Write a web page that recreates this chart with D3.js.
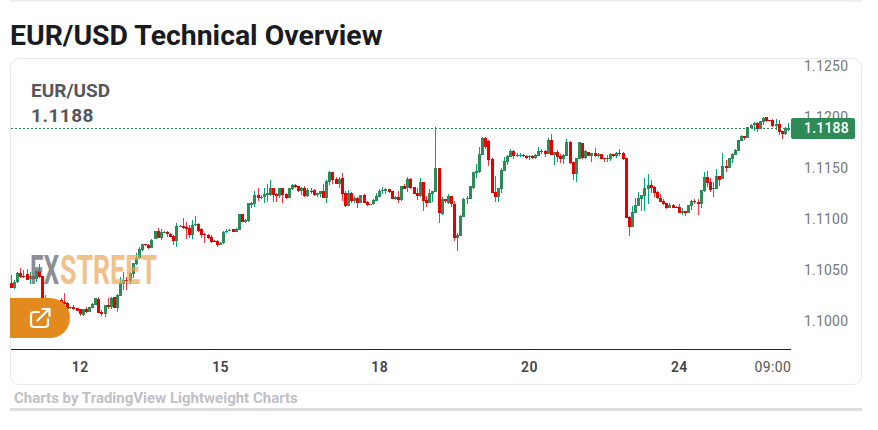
<!DOCTYPE html>
<html><head><meta charset="utf-8">
<script src="https://cdn.jsdelivr.net/npm/d3@7/dist/d3.min.js"></script>
<style>html,body{margin:0;padding:0;background:#fff;overflow:hidden}svg{display:block;font-family:Roboto,sans-serif}</style>
</head><body><svg id="c" width="878" height="430"></svg>
<script>
const title = "EUR/USD Technical Overview";
const symbol = "EUR/USD";
const lastPrice = 1.1188;
const priceTicks = [1.1250, 1.1200, 1.1150, 1.1100, 1.1050, 1.1000];
const timeTickIndex = [22, 67, 118, 166, 214, 244];
const timeTickLabels = ["12", "15", "18", "20", "24", "09:00"];
const opens = [
1.1036,1.1031,1.1037,1.1046,1.1043,1.1045,1.104,1.1043,1.104,1.1048,
1.1043,1.10215,1.10176,1.1014,1.1015,1.1014,1.10196,1.10173,1.1017,1.10115,
1.1013,1.10118,1.10108,1.10052,1.10108,1.1008,1.1012,1.10147,1.10209,1.10078,
1.10062,1.10147,1.1013,1.10222,1.1012,1.10238,1.10356,1.10389,1.10385,1.1045,
1.10549,1.10605,1.10686,1.10742,1.10735,1.10706,1.1079,1.10875,1.10804,1.10863,
1.10866,1.10843,1.10823,1.10777,1.1092,1.1092,1.10914,1.10902,1.10836,1.1093,
1.10944,1.10892,1.10843,1.10833,1.10813,1.10774,1.10774,1.10738,1.10758,1.1086,
1.10872,1.10888,1.10866,1.10882,1.11039,1.10964,1.10973,1.1113,1.11137,1.11225,
1.11196,1.11202,1.11225,1.11225,1.1129,1.11235,1.11215,1.1129,1.11235,1.11196,
1.11284,1.1132,1.11313,1.11267,1.1129,1.11215,1.11267,1.11274,1.11225,1.11235,
1.11261,1.11199,1.11356,1.1145,1.11378,1.11336,1.11388,1.11245,1.11117,1.11245,
1.11166,1.11196,1.11147,1.11225,1.11156,1.1113,1.11133,1.11169,1.11205,1.11264,
1.11267,1.11284,1.11261,1.11186,1.11205,1.11176,1.11313,1.1129,1.11382,1.11303,
1.11245,1.11215,1.11356,1.11176,1.1115,1.11235,1.11258,1.1149,1.11039,1.11186,
1.1115,1.11215,1.11137,1.10807,1.10823,1.11013,1.11182,1.11189,1.1129,1.11444,
1.1145,1.11617,1.11784,1.11751,1.11578,1.11254,1.11205,1.11287,1.11463,1.11552,
1.116,1.11656,1.11614,1.11607,1.1162,1.11607,1.11594,1.11607,1.11591,1.11607,
1.11653,1.11656,1.11627,1.11764,1.11617,1.11646,1.11607,1.11578,1.1161,1.11744,
1.11548,1.11431,1.11581,1.11735,1.11588,1.11646,1.11607,1.11637,1.11607,1.11627,
1.11588,1.11581,1.11578,1.11627,1.11607,1.1164,1.1164,1.11588,1.11009,1.1091,
1.11049,1.11117,1.11186,1.11215,1.11284,1.1132,1.11303,1.11254,1.1120,1.11169,
1.11147,1.11097,1.11127,1.1111,1.11107,1.11052,1.11065,1.11052,1.1112,1.11166,
1.1116,1.11137,1.11264,1.11401,1.11352,1.1128,1.11284,1.11411,1.11382,1.11509,
1.1149,1.11578,1.11617,1.11656,1.11754,1.11803,1.11784,1.11882,1.11908,1.1193,
1.11875,1.1194,1.1199,1.1196,1.1196,1.119,1.1192,1.11852,1.11823,1.11862];
const closes = [
1.10314,1.10375,1.1046,1.1042,1.10425,1.10395,1.1043,1.104,1.1048,1.1042,
1.1018,1.10176,1.10157,1.1016,1.1013,1.1011,1.10167,1.10154,1.1011,1.10125,
1.10108,1.1009,1.10059,1.10105,1.10075,1.10127,1.10154,1.10216,1.10072,1.10062,
1.10147,1.10124,1.10219,1.1012,1.10245,1.1036,1.10389,1.10382,1.1046,1.10556,
1.10605,1.10696,1.10742,1.10732,1.10706,1.10787,1.10872,1.10804,1.10866,1.10865,
1.1084,1.10816,1.10777,1.1092,1.10923,1.10899,1.10895,1.10836,1.1093,1.1094,
1.10875,1.10836,1.10833,1.108,1.10767,1.10764,1.10738,1.10758,1.10866,1.10872,
1.10882,1.10866,1.10892,1.11039,1.10964,1.1098,1.11143,1.11143,1.11225,1.11196,
1.11209,1.11235,1.11248,1.1129,1.11228,1.11215,1.1129,1.11225,1.11196,1.11294,
1.1132,1.11307,1.11261,1.11294,1.11215,1.11274,1.11258,1.11225,1.11241,1.11261,
1.11199,1.11362,1.1145,1.11372,1.11333,1.11378,1.11238,1.11114,1.11245,1.11166,
1.11196,1.1115,1.11225,1.11147,1.1113,1.11137,1.11176,1.11215,1.11264,1.11277,
1.11284,1.11254,1.11186,1.11205,1.11176,1.11313,1.11284,1.11382,1.11297,1.11238,
1.11215,1.11352,1.11166,1.1115,1.11245,1.11264,1.1149,1.11052,1.11186,1.11166,
1.11215,1.11137,1.10807,1.10833,1.11019,1.11186,1.11196,1.11313,1.1145,1.1146,
1.11627,1.11784,1.11699,1.11568,1.11248,1.11205,1.1129,1.1147,1.11558,1.11607,
1.11656,1.11607,1.11614,1.11617,1.11604,1.11588,1.11607,1.11588,1.1162,1.11656,
1.11646,1.1163,1.11764,1.11617,1.11646,1.116,1.11578,1.11617,1.11744,1.11539,
1.11431,1.11588,1.11744,1.11588,1.11656,1.11607,1.11637,1.11607,1.1163,1.11578,
1.11578,1.11588,1.1163,1.11607,1.11637,1.11627,1.11578,1.11,1.1091,1.11058,
1.11127,1.11196,1.11225,1.1129,1.11323,1.11297,1.11248,1.11199,1.1116,1.11137,
1.11097,1.11127,1.111,1.1110,1.11052,1.11065,1.11052,1.11127,1.11166,1.1116,
1.11137,1.11274,1.11401,1.11343,1.11274,1.1129,1.11411,1.11372,1.11509,1.1149,
1.11588,1.11627,1.11666,1.11764,1.11803,1.11784,1.11891,1.11911,1.11927,1.11875,
1.1195,1.1198,1.1195,1.1195,1.119,1.1192,1.11842,1.11823,1.11882,1.11882];
const highs = [
1.10438,1.1039,1.1047,1.1051,1.1049,1.105,1.1047,1.1044,1.1049,1.1055,
1.10435,1.1025,1.1019,1.1017,1.1017,1.102,1.10215,1.10267,1.1018,1.1013,
1.10148,1.1012,1.1011,1.1011,1.10124,1.1013,1.10165,1.1022,1.1023,1.10098,
1.10147,1.10211,1.10229,1.1023,1.10255,1.10417,1.10473,1.10424,1.10473,1.10556,
1.10653,1.10719,1.10745,1.10746,1.10745,1.1079,1.10875,1.10898,1.10895,1.1087,
1.10876,1.1085,1.10833,1.10947,1.1093,1.10996,1.10965,1.1093,1.1098,1.1102,
1.10955,1.10899,1.1085,1.10843,1.10833,1.1078,1.10784,1.1076,1.10876,1.10889,
1.1089,1.10895,1.10898,1.1104,1.11042,1.10993,1.11146,1.11153,1.11267,1.1129,
1.11225,1.1129,1.11333,1.11372,1.11297,1.11241,1.11297,1.11297,1.11241,1.11294,
1.1133,1.11333,1.11314,1.113,1.11313,1.1129,1.1129,1.1128,1.11248,1.11267,
1.11333,1.11372,1.1146,1.11454,1.11398,1.11398,1.11437,1.11267,1.11274,1.11258,
1.11215,1.11209,1.11228,1.11235,1.11166,1.1114,1.11182,1.11241,1.1128,1.11307,
1.11297,1.11287,1.11264,1.11212,1.11264,1.11313,1.11333,1.11405,1.11388,1.11307,
1.1129,1.11392,1.11356,1.11215,1.11284,1.11267,1.11895,1.1149,1.11202,1.11186,
1.11235,1.11215,1.11166,1.10849,1.11029,1.11192,1.11215,1.11316,1.11455,1.11529,
1.11692,1.11797,1.1179,1.11764,1.11584,1.11411,1.1129,1.11486,1.116,1.11617,
1.11672,1.11666,1.11633,1.1164,1.11627,1.11614,1.1162,1.1162,1.11627,1.11695,
1.11679,1.11666,1.1178,1.11823,1.11646,1.11666,1.11627,1.11627,1.1177,1.11757,
1.11548,1.11588,1.1175,1.1174,1.11666,1.1165,1.11637,1.11686,1.11637,1.1163,
1.11592,1.11617,1.11637,1.1163,1.11646,1.11676,1.11646,1.11592,1.11022,1.11117,
1.11196,1.11254,1.11225,1.11392,1.1143,1.11372,1.11313,1.11267,1.11235,1.11182,
1.1115,1.11147,1.11133,1.11115,1.11137,1.111,1.11071,1.1113,1.11176,1.11189,
1.11189,1.11274,1.1145,1.1146,1.11388,1.11356,1.1148,1.11414,1.11637,1.11568,
1.11592,1.1164,1.11679,1.11767,1.11813,1.11805,1.11894,1.11921,1.1194,1.1194,
1.11954,1.1199,1.1199,1.11963,1.11966,1.11966,1.1196,1.11852,1.11895,1.11927];
const lows = [
1.1031,1.103,1.1036,1.1041,1.1041,1.1039,1.1035,1.1039,1.10375,1.1041,
1.1016,1.1016,1.1015,1.1013,1.1012,1.101,1.1015,1.10115,1.101,1.1011,
1.10098,1.1009,1.10042,1.1004,1.10065,1.1008,1.10115,1.10145,1.10065,1.10042,
1.1003,1.10104,1.10111,1.1012,1.10082,1.10235,1.10294,1.10294,1.10353,1.1041,
1.10539,1.10595,1.1068,1.1073,1.107,1.10705,1.1079,1.108,1.10784,1.10855,
1.10817,1.1081,1.10735,1.10719,1.1091,1.1089,1.10797,1.108,1.1079,1.1092,
1.10866,1.108,1.10758,1.1079,1.10758,1.1076,1.10719,1.10735,1.1075,1.1085,
1.1087,1.1086,1.1086,1.1088,1.1096,1.10947,1.10965,1.11094,1.1111,1.11166,
1.11182,1.1115,1.1116,1.11215,1.1116,1.1116,1.11192,1.1115,1.11182,1.11192,
1.11274,1.11297,1.11254,1.11225,1.11209,1.11209,1.11235,1.11215,1.11202,1.11209,
1.11192,1.1115,1.11323,1.11333,1.11333,1.11297,1.11166,1.1111,1.11117,1.11143,
1.11143,1.111,1.11143,1.11143,1.11117,1.11127,1.11127,1.11166,1.11202,1.11235,
1.11235,1.11248,1.11182,1.11176,1.1115,1.11166,1.1128,1.11258,1.11287,1.11231,
1.11176,1.11209,1.11068,1.1111,1.11143,1.1116,1.11251,1.10954,1.11029,1.11143,
1.11137,1.11104,1.10777,1.10679,1.1082,1.1101,1.11137,1.11182,1.11284,1.11395,
1.11444,1.11617,1.11676,1.11509,1.11245,1.1116,1.1116,1.11241,1.1146,1.11519,
1.11594,1.11578,1.116,1.116,1.11597,1.11581,1.11571,1.11575,1.11575,1.11607,
1.11627,1.11594,1.11627,1.11617,1.11519,1.11552,1.11535,1.11529,1.1161,1.11529,
1.11372,1.11352,1.1158,1.11581,1.11578,1.11604,1.11548,1.116,1.116,1.11575,
1.11552,1.11552,1.11558,1.116,1.11588,1.11607,1.11568,1.10999,1.10823,1.1091,
1.11045,1.11117,1.11068,1.11068,1.11137,1.11241,1.11209,1.11186,1.11153,1.11127,
1.11088,1.11094,1.11094,1.11097,1.11045,1.11026,1.11019,1.1105,1.11078,1.11133,
1.11029,1.11094,1.11258,1.113,1.11254,1.11205,1.1128,1.11313,1.11378,1.1145,
1.11486,1.11542,1.11617,1.11652,1.11754,1.11764,1.1178,1.11872,1.11855,1.11842,
1.11872,1.11914,1.1194,1.11947,1.11888,1.11862,1.11813,1.11774,1.11813,1.11852];

const svg = d3.select("#c");
const n = Math.min(opens.length, closes.length, highs.length, lows.length);
const x = d3.scaleLinear().domain([0, 249]).range([11.5, 788.5]);
const y = d3.scaleLinear().domain([1.1000, 1.1200]).range([320, 116]);
const px = i => Math.floor(x(i));
const idx = d3.range(n);
const UP = "#2e8b57", DOWN = "#e60000", UPW = "#00a37a", DOWNW = "#f23645";

svg.append("rect").attr("x",10).attr("y",0).attr("width",852).attr("height",1.5).attr("fill","#e9ebf0");
svg.append("text").attr("x",10).attr("y",45).attr("font-size",28.4).attr("font-weight",700).attr("fill","#1a1a22").text(title);
svg.append("rect").attr("x",10.5).attr("y",58.5).attr("width",851).attr("height",326).attr("rx",9).attr("fill","#fff").attr("stroke","#e8e9ee");

const g = svg.append("g");
g.selectAll("rect.w").data(idx).join("rect").attr("class","w")
  .attr("x",i=>px(i)).attr("width",1)
  .attr("y",i=>Math.round(y(highs[i])))
  .attr("height",i=>Math.max(1,Math.round(y(lows[i]))-Math.round(y(highs[i]))))
  .attr("fill",i=>closes[i]>=opens[i]?UPW:DOWNW);
g.selectAll("rect.b").data(idx).join("rect").attr("class","b")
  .attr("x",i=>px(i)-1).attr("width",3)
  .attr("y",i=>Math.round(y(Math.max(opens[i],closes[i]))))
  .attr("height",i=>Math.max(1,Math.round(y(Math.min(opens[i],closes[i])))-Math.round(y(Math.max(opens[i],closes[i])))))
  .attr("fill",i=>closes[i]>=opens[i]?UP:DOWN);

svg.append("line").attr("x1",11).attr("x2",791).attr("y1",Math.floor(y(lastPrice))+.5).attr("y2",Math.floor(y(lastPrice))+.5)
  .attr("stroke",UP).attr("stroke-width",1).attr("stroke-dasharray","2 2");

const wm = svg.append("g").attr("font-weight",700).attr("font-size",40).attr("font-family","'Liberation Sans Narrow',Roboto,sans-serif");
wm.append("text").attr("x",30).attr("y",284).attr("textLength",29).attr("lengthAdjust","spacingAndGlyphs").attr("fill","#6f7378").attr("opacity",.8).text("FX");
wm.append("text").attr("x",60).attr("y",284).attr("textLength",97).attr("lengthAdjust","spacingAndGlyphs").attr("fill","#e8a24e").attr("opacity",.65).text("STREET");

svg.append("text").attr("x",31).attr("y",97).attr("font-size",19).attr("font-weight",700).attr("fill","#55555c").text(symbol);
svg.append("text").attr("x",31).attr("y",122).attr("font-size",19).attr("font-weight",700).attr("letter-spacing",.5).attr("fill","#55555c").text(d3.format(".4f")(lastPrice));

svg.append("g").selectAll("text").data(priceTicks).join("text")
  .attr("x",804).attr("y",d=>y(d)+5.6).attr("font-size",14).attr("letter-spacing",.2).attr("fill","#777")
  .text(d=>d3.format(".4f")(d));
svg.append("rect").attr("x",791).attr("y",118).attr("width",64).attr("height",21).attr("rx",2).attr("fill",UP);
svg.append("text").attr("x",804).attr("y",133).attr("font-size",14).attr("font-weight",500).attr("letter-spacing",.2).attr("fill","#fff").text(d3.format(".4f")(lastPrice));

svg.append("line").attr("x1",11).attr("x2",791).attr("y1",349.5).attr("y2",349.5).attr("stroke","#222228");
svg.append("g").selectAll("text").data(timeTickLabels).join("text")
  .attr("x",(d,i)=>x(timeTickIndex[i])).attr("y",372).attr("text-anchor","middle")
  .attr("font-size",14).attr("letter-spacing",.4).attr("font-weight",(d,i)=>i<5?600:400).attr("fill",(d,i)=>i<5?"#444":"#555").text(d=>d);

svg.append("path").attr("d","M10 298H50a20 20 0 0 1 0 40H10Z").attr("fill","#e38a1e");
svg.append("path").attr("fill","none").attr("stroke","#fff").attr("stroke-width",2.2).attr("stroke-linecap","round").attr("stroke-linejoin","round")
  .attr("d","M39 312H34a3 3 0 0 0-3 3v9a3 3 0 0 0 3 3h11a3 3 0 0 0 3-3v-5M37.5 320.5L49 309M42.5 309H49.5V316");

svg.append("text").attr("x",14).attr("y",403).attr("font-size",15).attr("font-weight",700).attr("fill","#bfc0c6").text("Charts by TradingView Lightweight Charts");
svg.append("rect").attr("x",10).attr("y",408).attr("width",852).attr("height",3).attr("fill","#dddddf");
</script></body></html>
